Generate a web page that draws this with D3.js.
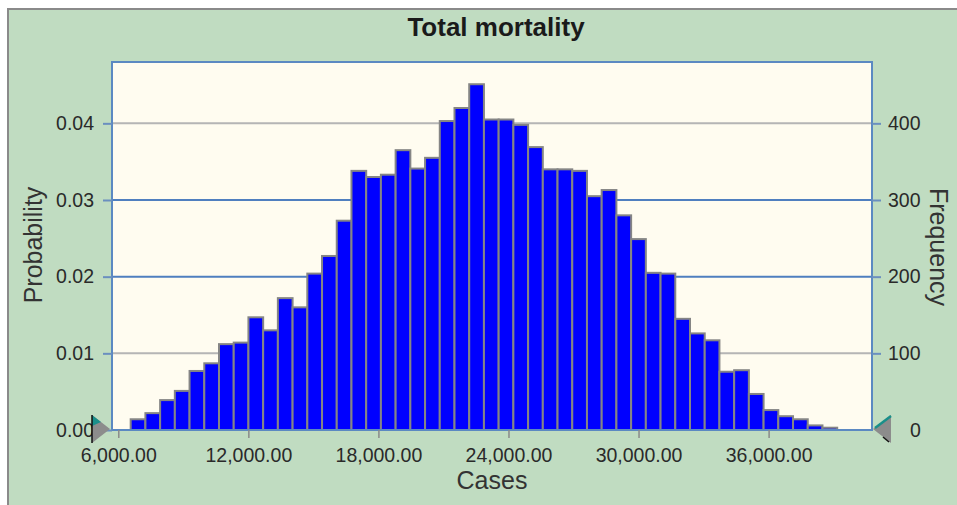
<!DOCTYPE html>
<html>
<head>
<meta charset="utf-8">
<script src="https://cdn.jsdelivr.net/npm/d3@7"></script>
<style>
  body { margin: 0; background: #fff; }
  text { font-family: "Liberation Sans", Arial, sans-serif; }
</style>
</head>
<body>
<div id="chart"></div>
<script>
// histogram of 10,000 trials, bins of equal width
var binStart = 6572;
var binWidth = 679;
var frequency = [14, 22, 39, 51, 77, 87, 112, 114, 147, 130, 172, 160, 204, 227, 273, 338, 330, 333, 365, 341,
                 355, 403, 420, 451, 405, 405, 398, 369, 340, 340, 338, 305, 313, 280, 249, 205, 204, 145, 126, 117,
                 76, 78, 47, 26, 18, 14, 6, 0, 3];
var trials = 10000;
var xTicks = [6000, 12000, 18000, 24000, 30000, 36000];
var probTicks = [0, 0.01, 0.02, 0.03, 0.04];
var freqTicks = [0, 100, 200, 300, 400];

var W = 957, H = 505;
var plotL = 112, plotR = 872, plotT = 62, plotB = 430;

var svg = d3.select("#chart").append("svg")
    .attr("width", W)
    .attr("height", H);

// outer panel
svg.append("rect").attr("x", 8).attr("y", 9).attr("width", W - 8).attr("height", H - 9)
    .attr("fill", "#c0dcc1");
svg.append("line").attr("x1", 7).attr("x2", W).attr("y1", 9).attr("y2", 9)
    .attr("stroke", "#8a8a8a").attr("stroke-width", 2);
svg.append("line").attr("x1", 8).attr("x2", 8).attr("y1", 8).attr("y2", H)
    .attr("stroke", "#8a8a8a").attr("stroke-width", 2);

var x = d3.scaleLinear().domain([5710, 40770]).range([plotL, plotR]);
var y = d3.scaleLinear().domain([0, 0.048]).range([plotB, plotT]);
var yf = d3.scaleLinear().domain([0, trials * 0.048]).range([plotB, plotT]);

svg.append("rect").attr("x", plotL).attr("y", plotT)
    .attr("width", plotR - plotL).attr("height", plotB - plotT)
    .attr("fill", "#fffcf0");

// gridlines, alternating grey / blue like the original
var gridColor = function (d) { return (d == 0.04 || d == 0.01) ? "#b5b5b5" : "#4f7fbf"; };
svg.append("g").selectAll("line")
    .data(probTicks.filter(function (d) { return d > 0; }))
    .enter().append("line")
    .attr("x1", plotL).attr("x2", plotR)
    .attr("y1", function (d) { return y(d); })
    .attr("y2", function (d) { return y(d); })
    .attr("stroke", gridColor)
    .attr("stroke-width", 2);

// bars
svg.append("g").selectAll("rect")
    .data(frequency)
    .enter().append("rect")
    .filter(function (d) { return d > 0; })
    .attr("x", function (d, i) { return x(binStart + i * binWidth); })
    .attr("width", function (d, i) { return x(binStart + (i + 1) * binWidth) - x(binStart + i * binWidth); })
    .attr("y", function (d) { return y(d / trials); })
    .attr("height", function (d) { return plotB - y(d / trials); })
    .attr("fill", "#0000ff")
    .attr("stroke", "#858585")
    .attr("stroke-width", 2);

// plot frame
svg.append("rect").attr("x", plotL).attr("y", plotT)
    .attr("width", plotR - plotL).attr("height", plotB - plotT)
    .attr("fill", "none").attr("stroke", "#5b89c2").attr("stroke-width", 2);

// left axis
var gl = svg.append("g").attr("transform", "translate(" + plotL + ",0)")
    .call(d3.axisLeft(y).tickValues(probTicks).tickFormat(d3.format(".2f")).tickSize(9).tickPadding(9));
// right axis
var gr = svg.append("g").attr("transform", "translate(" + plotR + ",0)")
    .call(d3.axisRight(yf).tickValues(freqTicks).tickFormat(d3.format("d")).tickSize(9).tickPadding(7));
// bottom axis
var gb = svg.append("g").attr("transform", "translate(0," + plotB + ")")
    .call(d3.axisBottom(x).tickValues(xTicks).tickFormat(d3.format(",.2f")).tickSize(8).tickPadding(10));

[gl, gr, gb].forEach(function (g) {
    g.select(".domain").remove();
    g.selectAll(".tick line").attr("stroke", "#6a8fbf").attr("stroke-width", 2);
    g.selectAll(".tick text")
        .attr("font-family", "Liberation Sans, Arial, sans-serif")
        .attr("font-size", 19.5)
        .attr("fill", "#2a2a2a");
});
gb.selectAll(".tick line").attr("stroke", "#8a8a8a").attr("stroke-width", 1.5);
gr.selectAll(".tick").filter(function (d) { return d == 0; }).select("line").remove();
gr.selectAll(".tick").filter(function (d) { return d == 0; }).select("text").attr("x", 38);

// range markers at the zero line
svg.append("polygon").attr("points", "92,415 110,429 92,443").attr("fill", "#8c8c8c");
svg.append("polygon").attr("points", "92,415 101,422 92,426").attr("fill", "#1a8f8a");
svg.append("line").attr("x1", 92).attr("x2", 92).attr("y1", 415).attr("y2", 443)
    .attr("stroke", "#111").attr("stroke-width", 1.5);
svg.append("polygon").attr("points", "891,415 873,429 891,443").attr("fill", "#8c8c8c");
svg.append("line").attr("x1", 891).attr("x2", 875).attr("y1", 416).attr("y2", 428)
    .attr("stroke", "#1a8f8a").attr("stroke-width", 2.5);
svg.append("line").attr("x1", 883).attr("x2", 889).attr("y1", 437).attr("y2", 442)
    .attr("stroke", "#111").attr("stroke-width", 1.5);

// titles
svg.append("text").attr("x", 496).attr("y", 36)
    .attr("text-anchor", "middle").attr("font-size", 26).attr("font-weight", "bold")
    .attr("fill", "#1a1a1a").text("Total mortality");
svg.append("text").attr("x", 492).attr("y", 489)
    .attr("text-anchor", "middle").attr("font-size", 25)
    .attr("fill", "#333").text("Cases");
svg.append("text").attr("transform", "translate(42,245) rotate(-90)")
    .attr("text-anchor", "middle").attr("font-size", 25)
    .attr("fill", "#333").text("Probability");
svg.append("text").attr("transform", "translate(930,247) rotate(90)")
    .attr("text-anchor", "middle").attr("font-size", 25)
    .attr("fill", "#333").text("Frequency");
</script>
</body>
</html>
